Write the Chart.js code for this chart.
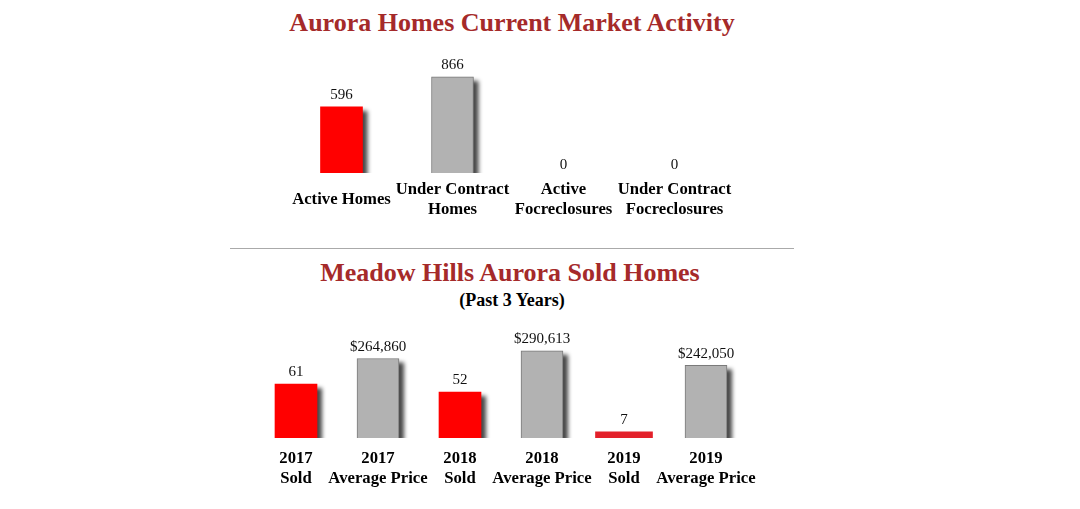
<!DOCTYPE html>
<html>
<head>
<meta charset="utf-8">
<script src="https://cdn.jsdelivr.net/npm/chart.js@4.4.1/dist/chart.umd.min.js"></script>
<style>
  html, body { margin: 0; padding: 0; background: #fff; }
  body { width: 1080px; height: 509px; position: relative; overflow: hidden; font-family: "Liberation Serif", "Times New Roman", serif; }
  .title { position: absolute; text-align: center; font-weight: bold; color: #a52a2a; font-size: 26px; line-height: 26px; white-space: nowrap; }
  .sub { position: absolute; text-align: center; font-weight: bold; color: #000; font-size: 18px; line-height: 18px; white-space: nowrap; }
  .box { position: absolute; }
  .rule { position: absolute; left: 230px; top: 248px; width: 564px; height: 0; border-top: 1px solid #aaa; }
</style>
</head>
<body>
<div class="title" style="left:262px;width:500px;top:10px;">Aurora Homes Current Market Activity</div>
<div class="box" style="left:236px;top:40px;width:544px;height:190px;"><canvas id="c1"></canvas></div>
<div class="rule"></div>
<div class="title" style="left:260px;width:500px;top:260px;">Meadow Hills Aurora Sold Homes</div>
<div class="sub" style="left:412px;width:200px;top:291px;">(Past 3 Years)</div>
<div class="box" style="left:205px;top:310px;width:592px;height:185px;"><canvas id="c2"></canvas></div>
<script>
// ---------- data ----------
const marketCategories = [["Active Homes"], ["Under Contract", "Homes"], ["Active", "Focreclosures"], ["Under Contract", "Focreclosures"]];
const activeValues = [596, null, 0, null];
const contractValues = [null, 866, null, 0];

const soldCategories = [["2017", "Sold"], ["2017", "Average Price"], ["2018", "Sold"], ["2018", "Average Price"], ["2019", "Sold"], ["2019", "Average Price"]];
const soldCounts = [61, 52, 7];
const avgPrices = [264860, 290613, 242050];

// ---------- styles ----------
const RED = '#ff0000';
const GRAY = '#b2b2b2';
const GRAY_BORDER = '#7a7a7a';
const TICK_FONT = { family: '"Liberation Serif", "Times New Roman", serif', size: 16.7, weight: 'bold', lineHeight: 1.2 };
const VALUE_FONT = '15px "Liberation Serif", "Times New Roman", serif';

function hideZero(color) {
  return (c) => (c.raw === 0 ? 'rgba(0,0,0,0)' : color);
}

const shadowPlugin = {
  id: 'barShadow',
  beforeDatasetsDraw(chart) {
    const ctx = chart.ctx, a = chart.chartArea;
    ctx.save();
    ctx.beginPath();
    ctx.rect(a.left - 10, a.top - 10, a.right - a.left + 30, a.bottom - a.top + 10);
    ctx.clip();
    chart.data.datasets.forEach((ds, i) => {
      if (!ds.shadow) return;
      const meta = chart.getDatasetMeta(i);
      meta.data.forEach((el, j) => {
        const v = ds.data[j];
        if (v === null || v === undefined || v === 0) return;
        const p = el.getProps(['x', 'y', 'base', 'width'], true);
        ctx.save();
        ctx.filter = 'blur(2px)';
        ctx.fillStyle = 'rgba(0,0,0,0.72)';
        ctx.fillRect(p.x - p.width / 2 + 5, p.y + 4, p.width, p.base - p.y);
        ctx.restore();
      });
    });
    ctx.restore();
  }
};

const valuePlugin = {
  id: 'valueLabels',
  afterDatasetsDraw(chart) {
    const ctx = chart.ctx;
    ctx.save();
    ctx.font = VALUE_FONT;
    ctx.fillStyle = '#111';
    ctx.textAlign = 'center';
    ctx.textBaseline = 'bottom';
    chart.data.datasets.forEach((ds, i) => {
      const meta = chart.getDatasetMeta(i);
      meta.data.forEach((el, j) => {
        const v = ds.data[j];
        if (v === null || v === undefined) return;
        const p = el.getProps(['x', 'y'], true);
        const txt = ds.money ? '$' + v.toLocaleString('en-US') : String(v);
        ctx.fillText(txt, p.x, p.y - (v === 0 ? 0 : 4));
      });
    });
    ctx.restore();
  }
};

function xScale(pad) {
  return {
    grid: { display: false, drawTicks: false },
    border: { display: false },
    ticks: { color: '#000', font: TICK_FONT, padding: pad, autoSkip: false, maxRotation: 0, crossAlign: 'center' },
    afterFit(s) { s.height = 57; s.paddingLeft = 0; s.paddingRight = 0; }
  };
}

const common = {
  responsive: true,
  maintainAspectRatio: false,
  animation: false,
  devicePixelRatio: 1,
  plugins: { legend: { display: false }, tooltip: { enabled: false }, title: { display: false } }
};

new Chart(document.getElementById('c1'), {
  type: 'bar',
  data: {
    labels: marketCategories,
    datasets: [
      { data: activeValues, backgroundColor: hideZero(RED), borderWidth: 0, barThickness: 42, grouped: false, shadow: true },
      { data: contractValues, backgroundColor: hideZero(GRAY), borderColor: hideZero(GRAY_BORDER), borderWidth: 1, barThickness: 42, grouped: false, shadow: true }
    ]
  },
  options: Object.assign({}, common, {
    layout: { padding: { top: 16, bottom: 0, left: 50, right: 50 } },
    scales: {
      x: xScale(17),
      y: { display: false, min: 0, max: 1054 }
    }
  }),
  plugins: [shadowPlugin, valuePlugin]
});

const sold1718 = [soldCounts[0], null, soldCounts[1], null, null, null];
const sold19 = [null, null, null, null, soldCounts[2], null];
const priceData = [null, avgPrices[0], null, avgPrices[1], null, avgPrices[2]];

new Chart(document.getElementById('c2'), {
  type: 'bar',
  data: {
    labels: soldCategories,
    datasets: [
      { data: sold1718, yAxisID: 'ySold', backgroundColor: RED, borderWidth: 0, barThickness: 42, grouped: false, shadow: true },
      { data: sold19, yAxisID: 'ySold', backgroundColor: '#e3202a', borderWidth: 0, barThickness: 57, grouped: false, shadow: false },
      { data: priceData, yAxisID: 'yPrice', backgroundColor: GRAY, borderColor: GRAY_BORDER, borderWidth: 1, barThickness: 42, grouped: false, shadow: true, money: true }
    ]
  },
  options: Object.assign({}, common, {
    layout: { padding: { top: 28, bottom: 0, left: 50, right: 50 } },
    scales: {
      x: xScale(21),
      ySold: { display: false, min: 0, max: 113 },
      yPrice: { display: false, min: 0, max: 333000 }
    }
  }),
  plugins: [shadowPlugin, valuePlugin]
});
</script>
</body>
</html>
